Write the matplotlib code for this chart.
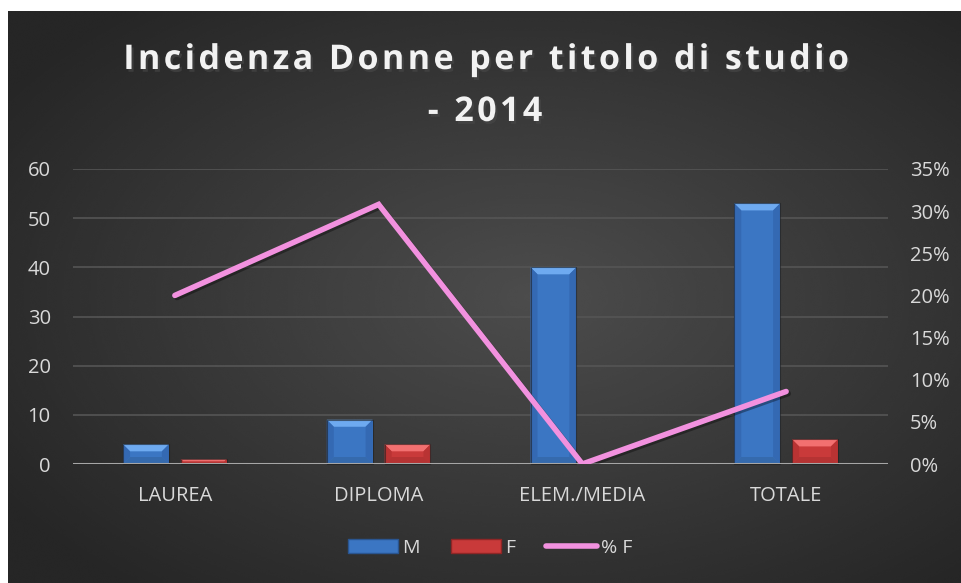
import numpy as np
import matplotlib
matplotlib.use("Agg")
import matplotlib.pyplot as plt
from matplotlib.patches import Polygon, Rectangle
from matplotlib.lines import Line2D
from matplotlib.transforms import IdentityTransform
import matplotlib.patheffects as pe

# data
categories = ["LAUREA", "DIPLOMA", "ELEM./MEDIA", "TOTALE"]
m_values = [4, 9, 40, 53]
f_values = [1, 4, 0, 5]
pct_f = [0.20, 0.308, 0.0, 0.086]
left_ticks = [0, 10, 20, 30, 40, 50, 60]
right_ticks = [0, 0.05, 0.10, 0.15, 0.20, 0.25, 0.30, 0.35]

plt.rcParams["font.family"] = ["Open Sans", "DejaVu Sans"]
TXT = "#d9d9d9"

fig = plt.figure(figsize=(9.62, 5.83), dpi=100)
fig.patch.set_facecolor("white")

# dark radial gradient background
bg = fig.add_axes([8 / 962, 0, 1 - 8 / 962, 572 / 583], zorder=0)
yy, xx = np.mgrid[0:1:300j, 0:1:500j]
r = np.sqrt(((xx - 0.55) / 0.75) ** 2 + ((yy - 0.5) / 0.75) ** 2)
shade = np.clip(0.30 - 0.17 * r, 0.15, 0.30)
bg.imshow(shade, cmap="gray", vmin=0, vmax=1, aspect="auto",
          extent=[0, 1, 0, 1], interpolation="bicubic")
bg.axis("off")

ax = fig.add_axes([73 / 962, (583 - 464) / 583, 815 / 962, 295 / 583], zorder=1)
ax.patch.set_alpha(0)
x = np.arange(len(categories))
ax.set_xlim(-0.5, len(categories) - 0.5)
ax.set_ylim(0, 60)
ax.set_yticks(left_ticks)
ax.grid(axis="y", color="#555555", linewidth=1.2)
ax.set_axisbelow(True)
for s in ax.spines.values():
    s.set_visible(False)
ax.axhline(0, color="#a6a6a6", linewidth=2.2, zorder=3)
ax.tick_params(length=0, colors=TXT, labelsize=14.5)
ax.tick_params(axis="x", pad=16)
ax.tick_params(axis="y", pad=16)
ax.set_xticks(x)
ax.set_xticklabels(categories)

width = 0.225
off = 0.142
bars_m = ax.bar(x - off, m_values, width, color="#3b76c3", zorder=2)
bars_f = ax.bar(x + off, f_values, width, color="#c93a3a", zorder=2)

# bevel look on the bars, drawn in pixel space inside the bar axes
def bevel(bars, top, side, bottom):
    for b in bars:
        if b.get_height() <= 0:
            continue
        (x0, y0), (x1, y1) = ax.transData.transform(
            [(b.get_x(), 0), (b.get_x() + b.get_width(), b.get_height())])
        d = min(7, (y1 - y0) / 2)
        tl, tr, bl, br = (x0, y1), (x1, y1), (x0, y0), (x1, y0)
        itl, itr = (x0 + d, y1 - d), (x1 - d, y1 - d)
        ibl, ibr = (x0 + d, y0 + d), (x1 - d, y0 + d)
        for pts, c in [([tl, tr, itr, itl], top), ([tl, itl, ibl, bl], side),
                       ([tr, br, ibr, itr], side), ([bl, ibl, ibr, br], bottom)]:
            ax.add_patch(Polygon(pts, closed=True, transform=IdentityTransform(),
                                 facecolor=c, edgecolor="none", zorder=2.5,
                                 clip_on=False))
        ax.add_patch(Rectangle((x0, y0), x1 - x0, y1 - y0,
                               transform=IdentityTransform(), facecolor="none",
                               edgecolor="#1f1f1f", linewidth=0.8, alpha=0.6,
                               zorder=2.6, clip_on=False))

bevel(bars_m, "#6eaaf0", "#3469b3", "#356aad")
bevel(bars_f, "#f27070", "#b93333", "#b53333")

ax2 = ax.twinx()
ax2.set_ylim(0, 0.35)
ax2.set_yticks(right_ticks)
ax2.set_yticklabels([f"{int(round(t * 100))}%" for t in right_ticks])
for s in ax2.spines.values():
    s.set_visible(False)
ax2.tick_params(length=0, colors=TXT, labelsize=14.5, pad=16)
ax2.plot(x, pct_f, color="#f291df", linewidth=4, solid_capstyle="round",
         solid_joinstyle="miter", zorder=4,
         path_effects=[pe.SimpleLineShadow(offset=(1.5, -1.5), alpha=0.35),
                       pe.Normal()])

# title
t1 = "\u200a".join("Incidenza Donne per titolo di studio")
t2 = "\u200a".join("- 2014")
for txt, ypix in [(t1, 60), (t2, 112)]:
    fig.text(485 / 962, 1 - ypix / 583, txt, ha="center", va="center",
             color="#f2f2f2", fontsize=24.5, fontweight="bold",
             path_effects=[pe.withSimplePatchShadow(offset=(1.5, -2), alpha=0.6)])

handles = [Rectangle((0, 0), 1, 1, facecolor="#3b76c3", edgecolor="#2a5590"),
           Rectangle((0, 0), 1, 1, facecolor="#c93a3a", edgecolor="#8f2626"),
           Line2D([], [], color="#f291df", linewidth=4, solid_capstyle="round")]
leg = fig.legend(handles, ["M", "F", "% F"], loc="center",
                 bbox_to_anchor=(490 / 962, 1 - 548 / 583), ncol=3, frameon=False,
                 fontsize=14, handlelength=2.6, handleheight=0.7,
                 handletextpad=0.2, columnspacing=1.6)
for t in leg.get_texts():
    t.set_color(TXT)

fig.savefig("out.png", dpi=100)
